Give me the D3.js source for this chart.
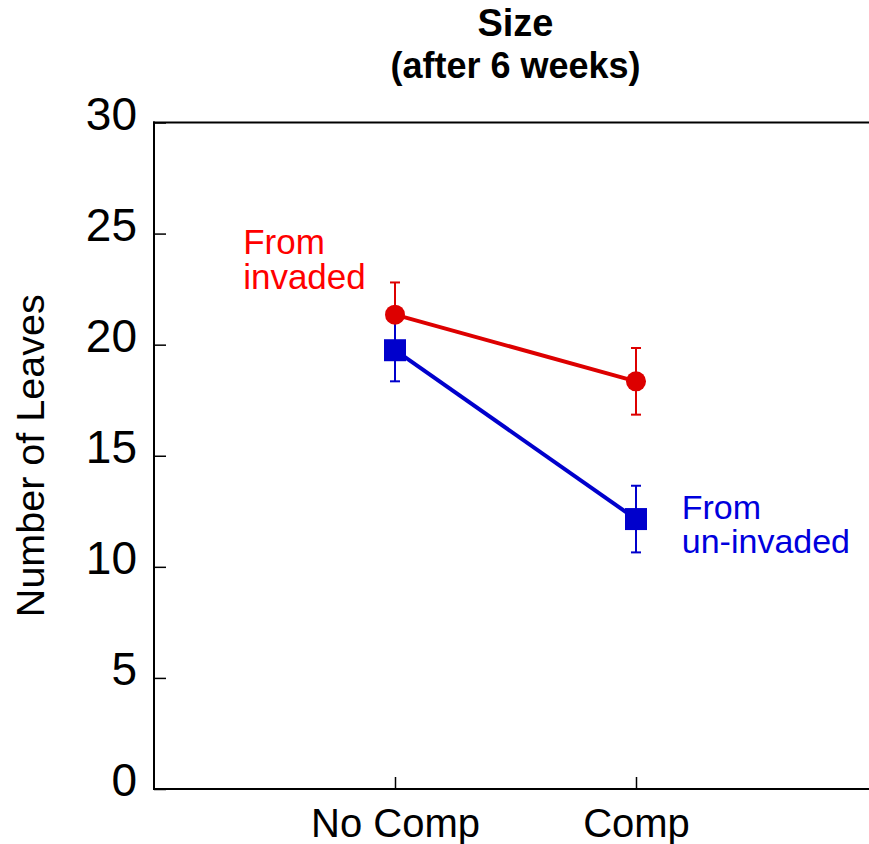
<!DOCTYPE html>
<html>
<head>
<meta charset="utf-8">
<script src="https://cdn.jsdelivr.net/npm/d3@7"></script>
<style>
  body { margin: 0; background: #fff; }
  text { font-family: "Liberation Sans", Arial, sans-serif; }
</style>
</head>
<body>
<svg id="chart" width="869" height="844"></svg>
<script>
// data
var categories = ["No Comp", "Comp"];
var invadedMean = [21.35, 18.35];
var invadedErr = [1.45, 1.5];
var uninvadedMean = [19.75, 12.15];
var uninvadedErr = [1.4, 1.5];
var yTicks = [0, 5, 10, 15, 20, 25, 30];

var svg = d3.select("#chart"),
  plotLeft = 154, plotRight = 877, plotTop = 122.5, plotBottom = 789,
  red = "#dd0000", blue = "#0000cc";

// categories sit at 1 and 2 on a 0..3 axis
var x = d3.scaleLinear().domain([0, 3]).range([plotLeft, plotRight]),
  y = d3.scaleLinear().domain([0, 30]).range([plotBottom, plotTop]);

function series(means, errs) {
  return categories.map(function (c, i) {
    return { cat: c, i: i + 1, m: means[i], e: errs[i] };
  });
}
var invaded = series(invadedMean, invadedErr),
  uninvaded = series(uninvadedMean, uninvadedErr);

// frame
svg.append("g").selectAll("line")
  .data([[plotLeft, plotTop, plotRight, plotTop], [plotLeft, plotBottom, plotRight, plotBottom],
    [plotLeft, plotTop, plotLeft, plotBottom]])
  .enter().append("line")
  .attr("x1", function (d) { return d[0]; }).attr("y1", function (d) { return d[1]; })
  .attr("x2", function (d) { return d[2]; }).attr("y2", function (d) { return d[3]; })
  .attr("stroke", "#000").attr("stroke-width", 2).attr("stroke-linecap", "square");

// y axis, ticks inward
var yAxis = svg.append("g").attr("transform", "translate(" + plotLeft + ",0)")
  .call(d3.axisRight(y).tickValues(yTicks).tickSize(12).tickFormat(d3.format("d")));
yAxis.select(".domain").remove();
yAxis.selectAll(".tick line").attr("stroke-width", 1.5);
yAxis.selectAll(".tick text")
  .attr("x", -17).attr("dy", 6.5).attr("text-anchor", "end")
  .attr("font-size", 46).attr("fill", "#000");

// x axis, ticks inward
var xAxis = svg.append("g").attr("transform", "translate(0," + plotBottom + ")")
  .call(d3.axisTop(x).tickValues([1, 2]).tickSize(12)
    .tickFormat(function (d) { return categories[d - 1]; }));
xAxis.select(".domain").remove();
xAxis.selectAll(".tick line").attr("stroke-width", 1.5);
xAxis.selectAll(".tick text")
  .attr("y", 48).attr("dy", 0).attr("text-anchor", "middle")
  .attr("font-size", 40).attr("fill", "#000");

function drawErr(data, col) {
  var g = svg.append("g").attr("stroke", col).attr("stroke-width", 2);
  data.forEach(function (d) {
    g.append("line").attr("x1", x(d.i)).attr("x2", x(d.i))
      .attr("y1", y(d.m - d.e)).attr("y2", y(d.m + d.e));
    [d.m - d.e, d.m + d.e].forEach(function (v) {
      g.append("line").attr("x1", x(d.i) - 5).attr("x2", x(d.i) + 5)
        .attr("y1", y(v)).attr("y2", y(v));
    });
  });
}
drawErr(invaded, red);
drawErr(uninvaded, blue);

var line = d3.line().x(function (d) { return x(d.i); }).y(function (d) { return y(d.m); });
svg.append("path").datum(uninvaded).attr("d", line)
  .attr("fill", "none").attr("stroke", blue).attr("stroke-width", 4);
svg.append("path").datum(invaded).attr("d", line)
  .attr("fill", "none").attr("stroke", red).attr("stroke-width", 4);

svg.append("g").selectAll("rect").data(uninvaded).enter().append("rect")
  .attr("x", function (d) { return x(d.i) - 11; })
  .attr("y", function (d) { return y(d.m) - 11; })
  .attr("width", 22).attr("height", 22).attr("fill", blue);
svg.append("g").selectAll("circle").data(invaded).enter().append("circle")
  .attr("cx", function (d) { return x(d.i); })
  .attr("cy", function (d) { return y(d.m); })
  .attr("r", 10).attr("fill", red);

// series labels
svg.append("text").attr("x", x(0.37)).attr("y", y(24.1))
  .attr("font-size", 35).attr("fill", "#ff0000")
  .selectAll("tspan").data(["From", "invaded"]).enter().append("tspan")
  .attr("x", x(0.37)).attr("dy", function (d, i) { return i ? 35 : 0; })
  .text(function (d) { return d; });
svg.append("text").attr("x", x(2.19)).attr("y", y(12.15))
  .attr("font-size", 34).attr("fill", "#0000dd")
  .selectAll("tspan").data(["From", "un-invaded"]).enter().append("tspan")
  .attr("x", x(2.19)).attr("dy", function (d, i) { return i ? 34 : 0; })
  .text(function (d) { return d; });

// title
svg.append("text").attr("x", (plotLeft + plotRight) / 2).attr("y", 36)
  .attr("text-anchor", "middle").attr("font-size", 38).attr("font-weight", "bold")
  .text("Size");
svg.append("text").attr("x", (plotLeft + plotRight) / 2).attr("y", 78)
  .attr("text-anchor", "middle").attr("font-size", 36).attr("font-weight", "bold")
  .text("(after 6 weeks)");

// y axis title
svg.append("text")
  .attr("transform", "translate(44," + y(15) + ") rotate(-90)")
  .attr("text-anchor", "middle").attr("font-size", 39.5)
  .text("Number of Leaves");
</script>
</body>
</html>
